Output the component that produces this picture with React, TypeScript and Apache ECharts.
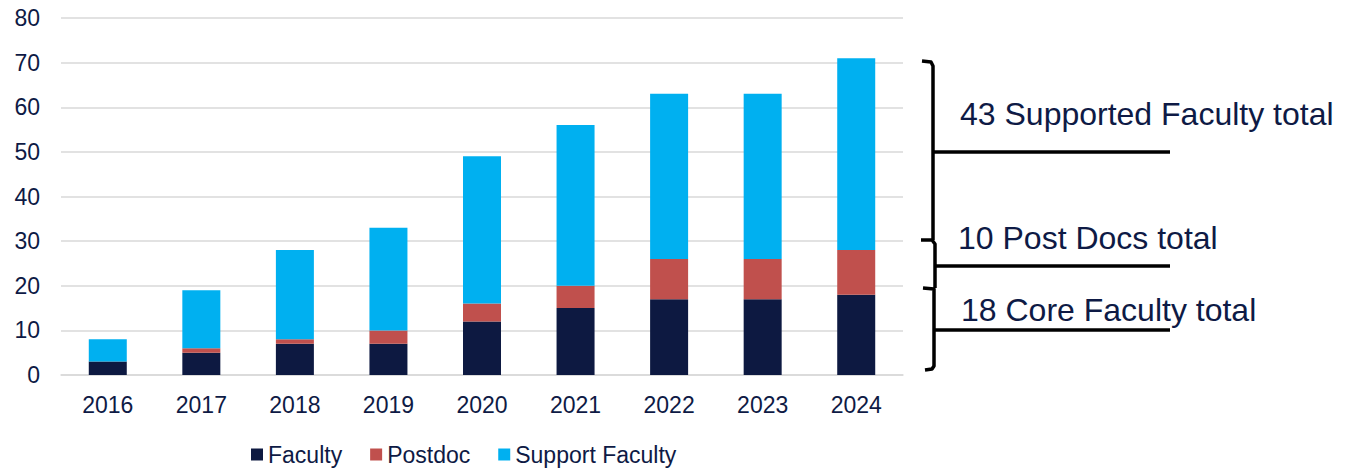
import React, { useEffect, useRef } from "react";
import * as echarts from "echarts";

const years = ["2016", "2017", "2018", "2019", "2020", "2021", "2022", "2023", "2024"];
const faculty = [3, 5, 7, 7, 12, 15, 17, 17, 18];
const postdoc = [0, 1, 1, 3, 4, 5, 9, 9, 10];
const supportFaculty = [5, 13, 20, 23, 33, 36, 37, 37, 43];
const seriesNames = ["Faculty", "Postdoc", "Support Faculty"];
const seriesColors = ["#0d1941", "#c0504d", "#00b0f0"];
const annotations = ["43 Supported Faculty total", "10 Post Docs total", "18 Core Faculty total"];

const TEXT = "#0e1a45";
const FONT = "'Liberation Sans', Arial, sans-serif";

export default function App() {
  const ref = useRef<HTMLDivElement>(null);
  useEffect(() => {
    if (!ref.current) return;
    const chart = echarts.init(ref.current, undefined, { renderer: "svg" });
    const lineStyle = { stroke: "#000", lineWidth: 3.5, fill: null, lineJoin: "round", lineCap: "butt" };
    const data = [faculty, postdoc, supportFaculty];
    chart.setOption({
      animation: false,
      textStyle: { fontFamily: FONT },
      grid: { left: 61, right: 445, top: 18, bottom: 93, containLabel: false },
      legend: {
        left: 251,
        top: 443,
        padding: 0,
        icon: "rect",
        itemWidth: 12,
        itemHeight: 12,
        itemGap: 28,
        textStyle: { fontSize: 23, lineHeight: 21, color: TEXT, fontFamily: FONT },
        data: seriesNames,
      },
      xAxis: {
        type: "category",
        data: years,
        axisLine: { lineStyle: { color: "#d9d9d9", width: 1.5 } },
        axisTick: { show: false },
        axisLabel: { fontSize: 23, color: TEXT, margin: 18, fontFamily: FONT },
      },
      yAxis: {
        type: "value",
        min: 0,
        max: 80,
        interval: 10,
        axisLine: { show: false },
        axisTick: { show: false },
        splitLine: { lineStyle: { color: "#d9d9d9", width: 1.5 } },
        axisLabel: { fontSize: 23, color: TEXT, margin: 21, fontFamily: FONT },
      },
      series: seriesNames.map((name, i) => ({
        name,
        type: "bar",
        stack: "total",
        barWidth: 38,
        data: data[i],
        itemStyle: { color: seriesColors[i] },
      })),
      graphic: [
        { type: "polyline", shape: { points: [[922, 61], [931, 62], [933, 66], [933, 240]] }, style: lineStyle },
        { type: "polyline", shape: { points: [[921, 240], [932, 240], [935, 244], [935, 288]] }, style: lineStyle },
        { type: "polyline", shape: { points: [[923, 288], [934, 289], [934, 366], [932, 369], [925, 370]] }, style: lineStyle },
        { type: "line", shape: { x1: 933, y1: 152, x2: 1170, y2: 152 }, style: lineStyle },
        { type: "line", shape: { x1: 935, y1: 266, x2: 1170, y2: 266 }, style: lineStyle },
        { type: "line", shape: { x1: 934, y1: 330, x2: 1170, y2: 330 }, style: lineStyle },
        { type: "text", x: 960, y: 114, style: { text: annotations[0], fontSize: 32, fill: TEXT, fontFamily: FONT, verticalAlign: "middle" } },
        { type: "text", x: 958, y: 238, style: { text: annotations[1], fontSize: 32, fill: TEXT, fontFamily: FONT, verticalAlign: "middle" } },
        { type: "text", x: 961, y: 310, style: { text: annotations[2], fontSize: 32, fill: TEXT, fontFamily: FONT, verticalAlign: "middle" } },
      ],
    });
    return () => chart.dispose();
  }, []);
  return (
    <div
      ref={ref}
      style={{ position: "fixed", left: 0, top: 0, width: 1348, height: 468, background: "#fff" }}
    />
  );
}
